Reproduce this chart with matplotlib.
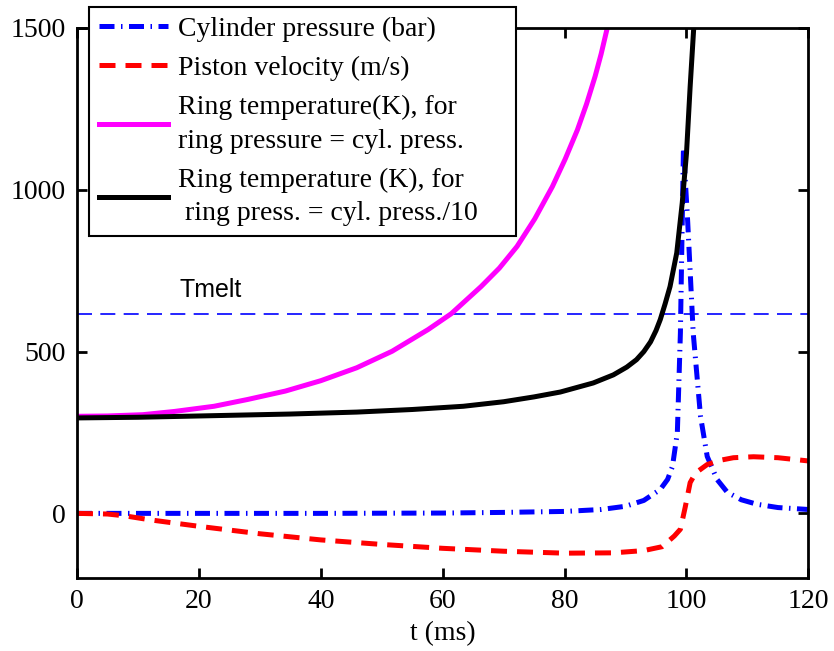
import numpy as np
import matplotlib.pyplot as plt

plt.rcParams['font.family'] = ['Liberation Serif', 'DejaVu Serif']

# cylinder pressure (bar)
t_pres = [0, 20, 40, 60, 70, 80, 86, 90, 93, 95.7, 96.9, 97.7, 98.5, 99.0, 99.5,
          100.2, 101.1, 102.3, 103.4, 105, 106.7, 109, 111.6, 115, 120]
pres = [0, 0, 0, 1, 3, 6, 12, 22, 40, 74, 105, 145, 250, 558, 1130,
        900, 558, 300, 176, 105, 65, 42, 28, 18, 12]

# piston velocity (scaled)
t_vel = [0, 5, 8, 12, 16, 20, 30, 40, 50, 60, 70, 80, 88, 93, 96, 98, 99,
         99.8, 100.6, 101.5, 103.4, 105.5, 107.7, 111, 115, 120]
vel = [0, -2, -8, -20, -30, -40, -63, -82, -96, -108, -117, -123, -122, -115,
       -103, -70, -49, 20, 95, 125, 151, 164, 172, 175, 172, 162]

# ring temperature, ring pressure = cylinder pressure
t_ring1 = [0, 5, 10.8, 16, 22.5, 28, 34.2, 40, 45.9, 51.7, 57.6, 61.4, 66.3,
           69.3, 72.2, 75.1, 78.0, 80.1, 82.1, 83.6, 85.0, 86.0, 87.0]
temp_ring1 = [300, 301, 305, 315, 331, 352, 378, 410, 450, 501, 568, 617, 701,
              758, 825, 910, 1010, 1095, 1185, 1265, 1350, 1420, 1500]

# ring temperature, ring pressure = cylinder pressure / 10
t_ring2 = [0, 10, 22.5, 35, 45.9, 55, 63.4, 70, 75, 79.3, 84.7, 88, 90.2, 91.8,
           93.0, 94.1, 95.0, 95.7, 96.5, 97.3, 98.4, 99.3, 100.0, 100.6, 101.2]
temp_ring2 = [295, 297, 302, 307, 313, 321, 331, 345, 360, 375, 403, 428, 452,
              475, 500, 530, 565, 599, 648, 701, 805, 959, 1113, 1319, 1504]

t_melt = 617

fig = plt.figure(figsize=(8.34, 6.51), dpi=100)
ax = fig.add_axes([0.0923, 0.112, 0.877, 0.845])

ax.axhline(t_melt, color='#0000ff', lw=1.2, ls=(0, (9, 5)))
ax.text(16.9, 668, 'Tmelt', family='Liberation Sans', fontsize=18)

l1, = ax.plot(t_pres, pres, color='#0000ff', lw=3.6, ls=(0, (3, 1.3, 0.3, 1.3)),
              label='Cylinder pressure (bar)')
l2, = ax.plot(t_vel, vel, color='#ff0000', lw=3.6, ls=(0, (3.2, 2)),
              label='Piston velocity (m/s)')
l3, = ax.plot(t_ring1, temp_ring1, color='#ff00ff', lw=3.6,
              label='Ring temperature(K), for\nring pressure = cyl. press.')
l4, = ax.plot(t_ring2, temp_ring2, color='black', lw=3.6,
              label='Ring temperature (K), for\n ring press. = cyl. press./10')

ax.set_xlim(0, 120)
ax.set_ylim(-200, 1500)
ax.set_xticks([0, 20, 40, 60, 80, 100, 120])
ax.set_yticks([0, 500, 1000, 1500])
ax.tick_params(direction='in', length=7, width=2, labelsize=20,
               top=True, right=True, pad=8)
for s in ax.spines.values():
    s.set_linewidth(2)
ax.set_xlabel('t (ms)', fontsize=20, labelpad=5)

leg = ax.legend(handles=[l1, l2, l3, l4], loc='upper left',
                bbox_to_anchor=(0.107, 0.642, 0.512, 0.348),
                bbox_transform=fig.transFigure, mode='expand',
                fontsize=20, handlelength=2.5, handletextpad=0.35,
                labelspacing=0.5, borderpad=0.35, borderaxespad=0,
                fancybox=False, framealpha=1, edgecolor='black')
leg.get_frame().set_linewidth(1.5)
for txt in leg.get_texts():
    txt.set_linespacing(1.45)

fig.savefig('out.png', dpi=100)
